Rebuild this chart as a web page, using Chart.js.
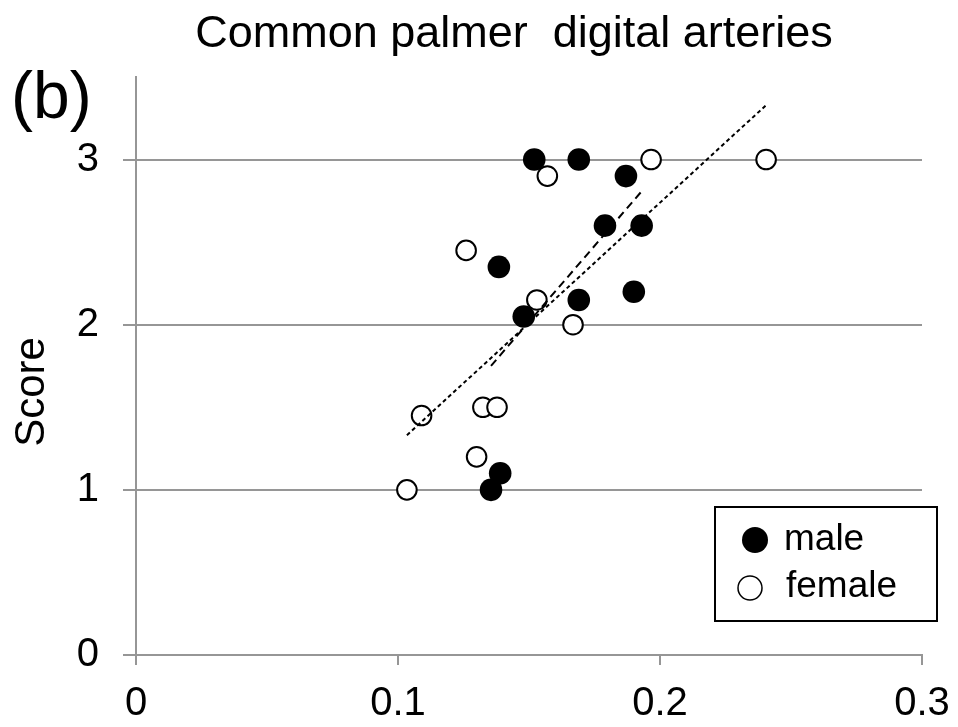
<!DOCTYPE html>
<html>
<head>
<meta charset="utf-8">
<script src="https://cdn.jsdelivr.net/npm/chart.js@4.4.1/dist/chart.umd.min.js"></script>
<style>
  html, body { margin: 0; padding: 0; background: #ffffff; }
  #wrap { width: 958px; height: 727px; }
</style>
</head>
<body>
<div id="wrap"><canvas id="chart" width="958" height="727"></canvas></div>
<script>
// Vessel diameter (x) against score (y), per sex
const maleX   = [0.152, 0.169, 0.187, 0.179, 0.193, 0.1385, 0.169, 0.190, 0.148, 0.139, 0.1355];
const maleY   = [3.0,   3.0,   2.9,   2.6,   2.6,   2.35,   2.15,  2.2,   2.05,  1.1,   1.0];
const femaleX = [0.1966, 0.2405, 0.157, 0.126, 0.153, 0.1668, 0.109, 0.1324, 0.1378, 0.130, 0.1034];
const femaleY = [3.0,    3.0,    2.9,   2.45,  2.15,  2.0,    1.45,  1.5,    1.5,    1.2,   1.0];

const xTickValues = [0, 0.1, 0.2, 0.3];
const xTickLabels = ['0', '0.1', '0.2', '0.3'];
const yTickValues = [0, 1, 2, 3];
const yTickLabels = ['0', '1', '2', '3'];

const titleText = 'Common palmer  digital arteries';
const panelText = '(b)';
const yTitleText = 'Score';
const legendLabels = ['male', 'female'];

const FONT = '"Liberation Sans", Arial, sans-serif';
const AXIS_GRAY = '#969696';

function toPoints(xs, ys) {
  return xs.map((x, i) => ({ x: x, y: ys[i] }));
}

// Least-squares fit, drawn across the sample's own x range
function fitLine(xs, ys) {
  const n = xs.length;
  const mx = xs.reduce((a, b) => a + b, 0) / n;
  const my = ys.reduce((a, b) => a + b, 0) / n;
  let sxy = 0, sxx = 0;
  for (let i = 0; i < n; i++) {
    sxy += (xs[i] - mx) * (ys[i] - my);
    sxx += (xs[i] - mx) * (xs[i] - mx);
  }
  const slope = sxy / sxx;
  const x0 = Math.min(...xs), x1 = Math.max(...xs);
  return [
    { x: x0, y: my + slope * (x0 - mx) },
    { x: x1, y: my + slope * (x1 - mx) }
  ];
}

// keep the plot area fixed: tick labels may overhang the edges
function noEdgePadding(scale) {
  scale.paddingLeft = 0;
  scale.paddingRight = 0;
  scale.paddingTop = 0;
  scale.paddingBottom = 0;
}

const decorations = {
  id: 'decorations',
  afterDraw(chart) {
    const ctx = chart.ctx;
    ctx.save();
    ctx.fillStyle = '#000';

    // chart title
    ctx.font = '45px ' + FONT;
    ctx.textAlign = 'center';
    ctx.textBaseline = 'alphabetic';
    ctx.fillText(titleText, 514, 47);

    // panel letter
    ctx.font = '66px ' + FONT;
    ctx.textAlign = 'left';
    ctx.fillText(panelText, 11, 118);

    // y axis title
    ctx.save();
    ctx.translate(44, 392);
    ctx.rotate(-Math.PI / 2);
    ctx.font = '42px ' + FONT;
    ctx.textAlign = 'center';
    ctx.fillText(yTitleText, 0, 0);
    ctx.restore();

    // legend box
    ctx.fillStyle = '#fff';
    ctx.fillRect(715, 507, 222, 114);
    ctx.strokeStyle = '#000';
    ctx.lineWidth = 2;
    ctx.strokeRect(715, 507, 222, 114);

    ctx.fillStyle = '#000';
    ctx.beginPath();
    ctx.arc(755, 540, 13, 0, Math.PI * 2);
    ctx.fill();

    ctx.beginPath();
    ctx.arc(750, 588, 12, 0, Math.PI * 2);
    ctx.lineWidth = 1.5;
    ctx.stroke();

    ctx.font = '37px ' + FONT;
    ctx.textAlign = 'left';
    ctx.fillText(legendLabels[0], 784, 550);
    ctx.fillText(legendLabels[1], 786, 597);

    ctx.restore();
  }
};

new Chart(document.getElementById('chart'), {
  type: 'scatter',
  data: {
    datasets: [
      {
        type: 'line',
        label: 'female fit',
        data: fitLine(femaleX, femaleY),
        borderColor: '#000',
        borderWidth: 2,
        borderDash: [4, 3],
        pointRadius: 0,
        fill: false
      },
      {
        type: 'line',
        label: 'male fit',
        data: fitLine(maleX, maleY),
        borderColor: '#000',
        borderWidth: 2,
        borderDash: [8, 5],
        pointRadius: 0,
        fill: false
      },
      {
        label: legendLabels[1],
        data: toPoints(femaleX, femaleY),
        pointRadius: 9.8,
        pointHoverRadius: 9.8,
        backgroundColor: '#fff',
        borderColor: '#000',
        borderWidth: 2
      },
      {
        label: legendLabels[0],
        data: toPoints(maleX, maleY),
        pointRadius: 11.3,
        pointHoverRadius: 11.3,
        backgroundColor: '#000',
        borderColor: '#000',
        borderWidth: 0
      }
    ]
  },
  options: {
    responsive: false,
    animation: false,
    events: [],
    layout: { padding: { left: 0, top: 77, right: 36, bottom: 0 } },
    plugins: {
      legend: { display: false },
      title: { display: false },
      tooltip: { enabled: false }
    },
    scales: {
      x: {
        type: 'linear',
        min: 0,
        max: 0.3,
        afterFit(scale) { scale.height = 72; noEdgePadding(scale); },
        afterBuildTicks(scale) { scale.ticks = xTickValues.map(v => ({ value: v })); },
        ticks: {
          autoSkip: false,
          maxRotation: 0,
          padding: 15,
          color: '#000',
          font: { family: FONT, size: 40 },
          callback: (v, i) => xTickLabels[i]
        },
        grid: {
          drawOnChartArea: false,
          drawTicks: true,
          tickLength: 10,
          color: AXIS_GRAY,
          lineWidth: 2
        },
        border: { display: true, color: AXIS_GRAY, width: 2 }
      },
      y: {
        type: 'linear',
        min: 0,
        max: 3.5,
        afterFit(scale) { scale.width = 136; noEdgePadding(scale); },
        afterBuildTicks(scale) { scale.ticks = yTickValues.map(v => ({ value: v })); },
        ticks: {
          autoSkip: false,
          padding: 24,
          color: '#000',
          font: { family: FONT, size: 40 },
          callback: (v, i) => yTickLabels[i]
        },
        grid: {
          drawOnChartArea: true,
          drawTicks: true,
          tickLength: 13,
          color: AXIS_GRAY,
          lineWidth: 2
        },
        border: { display: true, color: AXIS_GRAY, width: 2 }
      }
    }
  },
  plugins: [decorations]
});
</script>
</body>
</html>
